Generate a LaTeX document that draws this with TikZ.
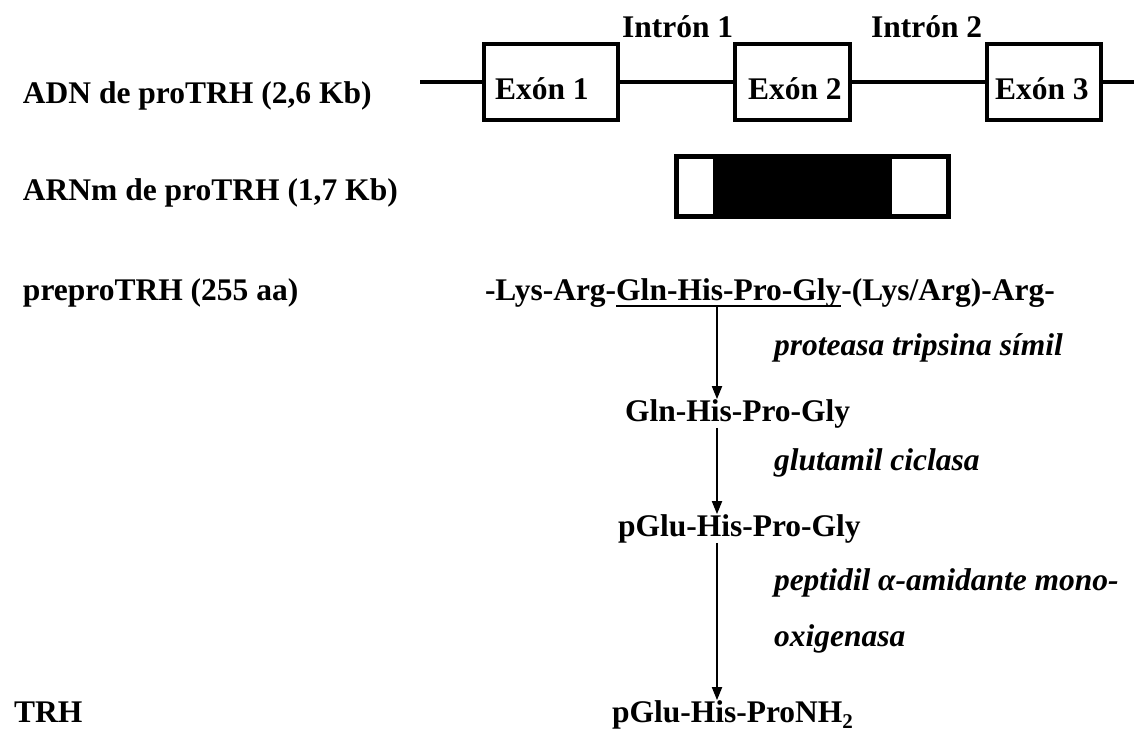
\documentclass[tikz,border=0pt]{standalone}
\usepackage{fontspec}
\setmainfont{Liberation Serif}
\usetikzlibrary{arrows.meta}
\begin{document}
\begin{tikzpicture}[x=1pt,y=-1pt,
  every node/.style={inner sep=0pt, outer sep=0pt},
  lbl/.style={anchor=base west, font=\fontsize{31.5}{36}\selectfont\bfseries},
  enz/.style={anchor=base west, font=\fontsize{31.5}{36}\selectfont\bfseries\itshape},
  exon/.style={draw, line width=4.5pt, minimum height=76pt},
  dna/.style={line width=4.5pt},
  step arrow/.style={line width=1.8pt, -{Triangle[width=10pt,length=13pt]}}]
\useasboundingbox (0,0) rectangle (1134,734);

% ---- row labels
\node[lbl] (lADN)  at (23,103) {ADN de proTRH (2,6 Kb)};
\node[lbl] (lARN)  at (23,200) {ARNm de proTRH (1,7 Kb)};
\node[lbl] (lpre)  at (23,300) {preproTRH (255 aa)};
\node[lbl] (lTRH)  at (14,722) {TRH};

% ---- gene: exons joined by introns
\coordinate (dnaL) at (420,82);
\coordinate (dnaR) at (1134,82);
\node[exon, minimum width=134pt] (e1) at (551,82) {};
\node[exon, minimum width=115pt] (e2) at (792.5,82) {};
\node[exon, minimum width=114pt] (e3) at (1044,82) {};
\draw[dna] (dnaL) -- (e1.west);
\draw[dna] (e1.east) -- (e2.west);
\draw[dna] (e2.east) -- (e3.west);
\draw[dna] (e3.east) -- (dnaR);
\node[lbl] (t1) at (495,99) {Exón 1};
\node[lbl] (t2) at (748,99) {Exón 2};
\node[lbl] (t3) at (995,99) {Exón 3};
\node[lbl] (i1) at (622,37) {Intrón 1};
\node[lbl] (i2) at (871,37) {Intrón 2};

% ---- mature mRNA: coding region in black
\node[draw, line width=5pt, minimum width=272pt, minimum height=60pt] (mrna) at (812.5,186.5) {};
\fill (713,154) rectangle (892,219);

% ---- precursor sequence, TRH motif underlined
\node[lbl] (p1) at (485,300) {-Lys-Arg-};
\node[lbl] (p2) at (p1.base east) {Gln-His-Pro-Gly};
\node[lbl] (p3) at (p2.base east) {-(Lys/Arg)-Arg-};
\draw[line width=2.5pt] ([yshift=-6pt]p2.base west) -- ([yshift=-6pt]p2.base east);

% ---- processing steps
\coordinate (ax) at (717,0);
\node[lbl] (gln)  at (625,421) {Gln-His-Pro-Gly};
\node[lbl] (pglu) at (618,536) {pGlu-His-Pro-Gly};
\node[lbl] (trh)  at (612,722) {pGlu-His-ProNH\raisebox{-0.22em}{\fontsize{21}{21}\selectfont 2}};

\node[enz] (en1) at (774,355) {proteasa tripsina símil};
\node[enz] (en2) at (774,470) {glutamil ciclasa};
\node[enz] (en3) at (774,590) {peptidil α-amidante mono-};
\node[enz] (en3b) at (774,646) {oxigenasa};

\draw[step arrow] (p2.south -| ax) -- (gln.north -| ax);
\draw[step arrow] (gln.south -| ax) -- (pglu.north -| ax);
\draw[step arrow] (pglu.south -| ax) -- (trh.north -| ax);
\end{tikzpicture}
\end{document}
